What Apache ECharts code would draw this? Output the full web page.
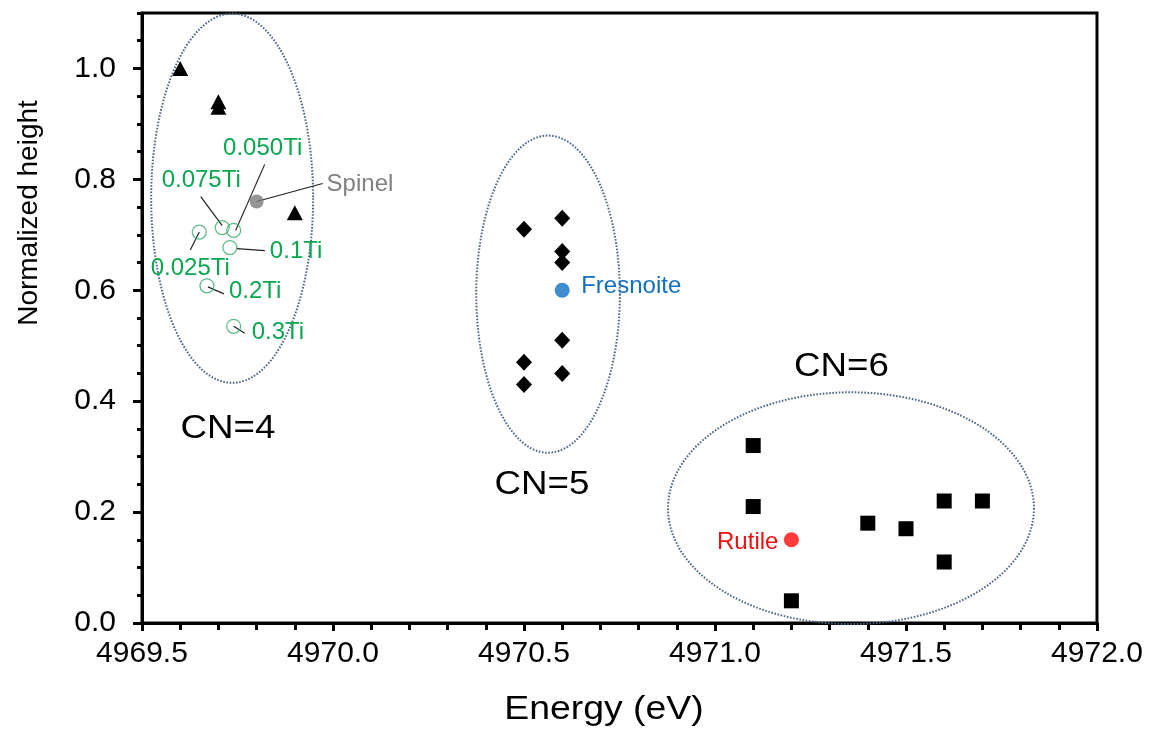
<!DOCTYPE html>
<html><head><meta charset="utf-8">
<script src="https://cdn.jsdelivr.net/npm/echarts@6/dist/echarts.min.js"></script>
<style>html,body{margin:0;padding:0;background:#fff}#chart{width:1149px;height:740px}</style>
</head><body><div id="chart"></div>
<script>
// ---------- data ----------
const xMin = 4969.5, xMax = 4972.0, xInterval = 0.5;
const yMin = 0, yMax = 1.1, yInterval = 0.2, yMinorInterval = 0.05;

// CN=4 (triangles)
const triX = [4969.6, 4969.7, 4969.7, 4969.9];
const triY = [1.00, 0.94, 0.93, 0.74];
// Ti-doped samples (open green circles)
const tiNames = ['0.025Ti', '0.050Ti', '0.075Ti', '0.1Ti', '0.2Ti', '0.3Ti'];
const tiX = [4969.65, 4969.74, 4969.71, 4969.73, 4969.67, 4969.74];
const tiY = [0.705, 0.708, 0.713, 0.677, 0.608, 0.535];
// reference minerals
const spinelX = [4969.80], spinelY = [0.76];
const fresnoiteX = [4970.6], fresnoiteY = [0.60];
const rutileX = [4971.2], rutileY = [0.15];
// CN=5 (diamonds)
const cn5X = [4970.5, 4970.6, 4970.6, 4970.6, 4970.6, 4970.5, 4970.6, 4970.5];
const cn5Y = [0.71, 0.73, 0.67, 0.65, 0.51, 0.47, 0.45, 0.43];
// CN=6 (squares)
const cn6X = [4971.1, 4971.1, 4971.2, 4971.4, 4971.5, 4971.6, 4971.7, 4971.6];
const cn6Y = [0.32, 0.21, 0.04, 0.18, 0.17, 0.22, 0.22, 0.11];
// group ellipses (centre and half-axes in data units)
const ellCx = [4969.736, 4970.563, 4971.356];
const ellCy = [0.766, 0.593, 0.207];
const ellRx = [0.212, 0.188, 0.479];
const ellRy = [0.333, 0.286, 0.209];
// group labels
const cnNames = ['CN=4', 'CN=5', 'CN=6'];
const cnX = [4969.725, 4970.547, 4971.331];
const cnY = [0.351, 0.250, 0.463];

const xTitle = 'Energy (eV)';
const yTitle = 'Normalized height';

// ---------- styles / layout ----------
const FONT = "Arial, 'Liberation Sans', Helvetica, sans-serif";
const GREEN_TEXT = '#0aa650';
const GREEN_MARK = '#3aa96d';
const annotStyle = {
  '0.025Ti': {t: [-9, 36], a: 'center', l: [[-9, 18], [0, 0]], c: GREEN_TEXT},
  '0.050Ti': {t: [29, -82], a: 'center', l: [[31, -66], [2, 0]], c: GREEN_TEXT},
  '0.075Ti': {t: [-21, -47], a: 'center', l: [[-21.5, -31], [0, -2]], c: GREEN_TEXT},
  '0.1Ti':   {t: [40, 4], a: 'left', l: [[35, 3], [7, 1]], c: GREEN_TEXT},
  '0.2Ti':   {t: [22, 6], a: 'left', l: [[17, 8], [1, 1]], c: GREEN_TEXT},
  '0.3Ti':   {t: [18, 6], a: 'left', l: [[11, 7], [0, 0]], c: GREEN_TEXT},
  'Spinel':  {t: [70, -17], a: 'left', l: [[66, -18], [0, 0]], c: '#808080'},
  'Fresnoite': {t: [19, -4], a: 'left', l: null, c: '#1170c0'},
  'Rutile':  {t: [-13, 3], a: 'right', l: null, c: '#ee1111'}
};

// ---------- assembled data ----------
const zip = (xs, ys) => xs.map((x, i) => [x, ys[i]]);
const annotNames = tiNames.concat(['Spinel', 'Fresnoite', 'Rutile']);
const annotData = zip(tiX, tiY).concat(zip(spinelX, spinelY), zip(fresnoiteX, fresnoiteY), zip(rutileX, rutileY));
const ellData = ellCx.map((c, i) => [c, ellCy[i], ellRx[i], ellRy[i]]);
const cnData = zip(cnX, cnY);

const chart = echarts.init(document.getElementById('chart'), null, {renderer: 'canvas'});

const blackScatter = (data, symbol, size) => ({
  type: 'scatter', data, symbol, symbolSize: size, z: 5,
  itemStyle: {color: '#000', opacity: 1}, emphasis: {disabled: true}, silent: true
});

chart.setOption({
  animation: false,
  backgroundColor: '#fff',
  grid: {left: 142, right: 52, top: 13, bottom: 117, show: true, borderColor: '#000', borderWidth: 3, containLabel: false},
  xAxis: {
    type: 'value', min: xMin, max: xMax, interval: xInterval,
    axisLine: {show: true, onZero: false, lineStyle: {color: '#000', width: 3}},
    axisTick: {show: true, length: 8, lineStyle: {color: '#000', width: 3}},
    minorTick: {show: true, splitNumber: 5, length: 7, lineStyle: {color: '#000', width: 3}},
    axisLabel: {fontSize: 30, color: '#000', fontFamily: FONT, margin: 16, formatter: v => v.toFixed(1)},
    splitLine: {show: false}, minorSplitLine: {show: false}
  },
  yAxis: [
    {
      type: 'value', min: yMin, max: yMax, interval: yInterval, position: 'left',
      axisLine: {show: true, onZero: false, lineStyle: {color: '#000', width: 3}},
      axisTick: {show: true, length: 9, lineStyle: {color: '#000', width: 3}},
      axisLabel: {fontSize: 30, color: '#000', fontFamily: FONT, margin: 26, showMaxLabel: false, formatter: v => v.toFixed(1)},
      splitLine: {show: false}
    },
    {
      type: 'value', min: yMin, max: yMax, interval: yMinorInterval, position: 'left', offset: 0,
      axisLine: {show: false, onZero: false},
      axisTick: {show: true, length: 5, lineStyle: {color: '#000', width: 3}},
      axisLabel: {show: false}, splitLine: {show: false}
    }
  ],
  graphic: [
    {type: 'text', x: 604, y: 710, scaleX: 1.1, silent: true,
     style: {text: xTitle, fontSize: 34, fontFamily: FONT, fill: '#000', align: 'center', verticalAlign: 'middle'}},
    {type: 'text', x: 29, y: 213, rotation: Math.PI / 2, silent: true,
     style: {text: yTitle, fontSize: 28, fontFamily: FONT, fill: '#000', align: 'center', verticalAlign: 'middle'}}
  ],
  series: [
    { // group ellipses
      type: 'custom', data: ellData, clip: false, z: 1, silent: true,
      encode: {x: 0, y: 1},
      renderItem: (params, api) => {
        const c = api.coord([api.value(0), api.value(1)]);
        const s = api.size([api.value(2), api.value(3)]);
        const pts = [];
        for (let k = 0; k < 180; k++) {
          const t = k / 180 * Math.PI * 2;
          pts.push([c[0] + s[0] * Math.cos(t), c[1] + s[1] * Math.sin(t)]);
        }
        return {type: 'polygon', shape: {points: pts},
          style: {fill: 'none', stroke: '#4f6787', lineWidth: 2, lineDash: [1.6, 1.6]}};
      }
    },
    { // point annotations with leader lines
      type: 'custom', data: annotData, clip: false, z: 3, silent: true,
      encode: {x: 0, y: 1},
      renderItem: (params, api) => {
        const p = api.coord([api.value(0), api.value(1)]);
        const name = annotNames[params.dataIndex];
        const cfg = annotStyle[name];
        const children = [];
        if (cfg.l) {
          children.push({type: 'line', shape: {x1: p[0] + cfg.l[0][0], y1: p[1] + cfg.l[0][1], x2: p[0] + cfg.l[1][0], y2: p[1] + cfg.l[1][1]},
            style: {stroke: '#222', lineWidth: 1.2}});
        }
        children.push({type: 'text', x: p[0] + cfg.t[0], y: p[1] + cfg.t[1],
          style: {text: name, fontSize: 24, fontFamily: FONT, fill: cfg.c, align: cfg.a, verticalAlign: 'middle'}});
        return {type: 'group', children};
      }
    },
    { // CN group labels
      type: 'custom', data: cnData, clip: false, z: 3, silent: true,
      encode: {x: 0, y: 1},
      renderItem: (params, api) => {
        const p = api.coord([api.value(0), api.value(1)]);
        return {type: 'text', x: p[0], y: p[1], scaleX: 1.08,
          style: {text: cnNames[params.dataIndex], fontSize: 34, fontFamily: FONT, fill: '#000', align: 'center', verticalAlign: 'middle'}};
      }
    },
    blackScatter(zip(triX, triY), 'triangle', [16, 15]),
    {
      type: 'scatter', data: zip(tiX, tiY), symbol: 'circle', symbolSize: 14, z: 5, silent: true,
      itemStyle: {color: 'rgba(255,255,255,0)', borderColor: GREEN_MARK, borderWidth: 1.3}
    },
    {
      type: 'scatter', data: zip(spinelX, spinelY), symbol: 'circle', symbolSize: 14, z: 5, silent: true,
      itemStyle: {color: '#7a7a7a'}
    },
    blackScatter(zip(cn5X, cn5Y), 'diamond', [16, 17]),
    {
      type: 'scatter', data: zip(fresnoiteX, fresnoiteY), symbol: 'circle', symbolSize: 15, z: 5, silent: true,
      itemStyle: {color: '#1070c0'}
    },
    blackScatter(zip(cn6X, cn6Y), 'rect', 15),
    {
      type: 'scatter', data: zip(rutileX, rutileY), symbol: 'circle', symbolSize: 15, z: 5, silent: true,
      itemStyle: {color: '#ff0a0a'}
    }
  ]
});
</script></body></html>
